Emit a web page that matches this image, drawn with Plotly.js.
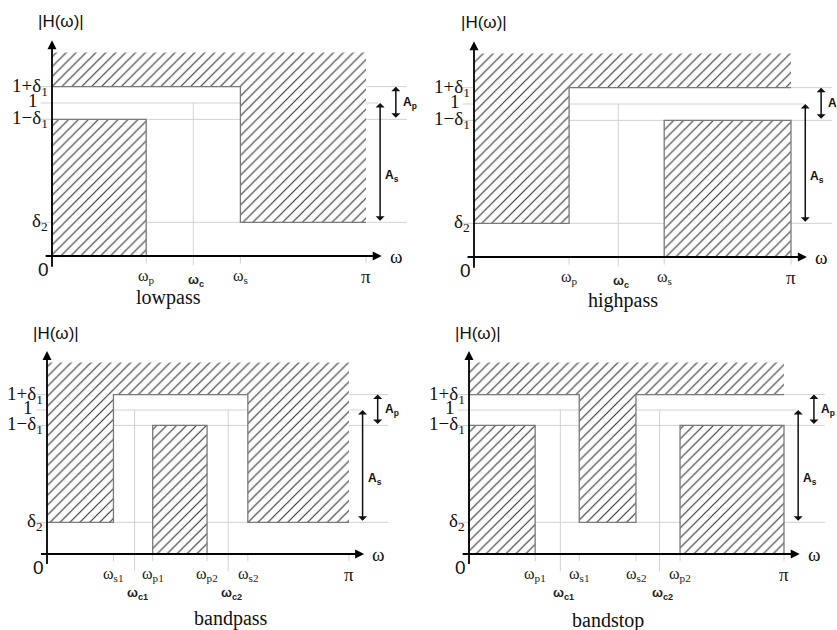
<!DOCTYPE html>
<html><head><meta charset="utf-8">
<script src="https://cdn.plot.ly/plotly-3.0.1.min.js"></script>
<style>html,body{margin:0;padding:0;background:#fff}#chart{width:837px;height:630px}</style>
</head><body><div id="chart"></div>
<script>
// ---------------- data (frequencies as fractions of π, magnitudes) ----------------
const delta1 = 0.107;
const delta2 = 0.22;
const topLevel = 1.33;
const levelValues = [1 + delta1, 1, 1 - delta1, delta2];
const levelLabels = ['1+δ<sub>1</sub>', '1', '1−δ<sub>1</sub>', 'δ<sub>2</sub>'];
const panelNames = ['lowpass', 'highpass', 'bandpass', 'bandstop'];

// lowpass
const lpEdges = [0.30, 0.60, 1.0];
const lpEdgeLabels = ['ω<sub>p</sub>', 'ω<sub>s</sub>', 'π'];
const lpCutoffs = [0.45];
const lpCutoffLabels = ['ω<sub>c</sub>'];
const lpUpperBreaks = [0, 0.60, 1.0];
const lpUpperLevels = [1 + delta1, delta2];
const lpLowerBands = [[0, 0.30]];

// highpass
const hpEdges = [0.30, 0.60, 1.0];
const hpEdgeLabels = ['ω<sub>p</sub>', 'ω<sub>s</sub>', 'π'];
const hpCutoffs = [0.455];
const hpCutoffLabels = ['ω<sub>c</sub>'];
const hpUpperBreaks = [0, 0.30, 1.0];
const hpUpperLevels = [delta2, 1 + delta1];
const hpLowerBands = [[0.60, 1.0]];

// bandpass
const bpEdges = [0.22, 0.35, 0.53, 0.665, 1.0];
const bpEdgeLabels = ['ω<sub>s1</sub>', 'ω<sub>p1</sub>', 'ω<sub>p2</sub>', 'ω<sub>s2</sub>', 'π'];
const bpCutoffs = [0.29, 0.60];
const bpCutoffLabels = ['ω<sub>c1</sub>', 'ω<sub>c2</sub>'];
const bpUpperBreaks = [0, 0.22, 0.665, 1.0];
const bpUpperLevels = [delta2, 1 + delta1, delta2];
const bpLowerBands = [[0.35, 0.53]];

// bandstop
const bsEdges = [0.21, 0.35, 0.53, 0.67, 1.0];
const bsEdgeLabels = ['ω<sub>p1</sub>', 'ω<sub>s1</sub>', 'ω<sub>s2</sub>', 'ω<sub>p2</sub>', 'π'];
const bsCutoffs = [0.29, 0.605];
const bsCutoffLabels = ['ω<sub>c1</sub>', 'ω<sub>c2</sub>'];
const bsUpperBreaks = [0, 0.35, 0.53, 1.0];
const bsUpperLevels = [1 + delta1, delta2, 1 + delta1];
const bsLowerBands = [[0, 0.21], [0.67, 1.0]];

// ---------------- layout geometry (pixels) ----------------
const W = 837, H = 630;
const geom = [
  {ox: 52,  oy: 256, pi: 366, one: 103, box: [0, 0, 418, 315],   titleX: 0.37, titleShift: -41, cShift: -24},
  {ox: 474, oy: 257, pi: 791, one: 104, box: [418, 0, 837, 315], titleX: 0.47, titleShift: -43, cShift: -24},
  {ox: 47,  oy: 554, pi: 349, one: 410, box: [0, 315, 418, 630], titleX: 0.61, titleShift: -64, cShift: -39},
  {ox: 469, oy: 554, pi: 784, one: 410, box: [418, 315, 837, 630], titleX: 0.44, titleShift: -66, cShift: -39}
];

const panels = [
  {edges: lpEdges, edgeLabels: lpEdgeLabels, cut: lpCutoffs, cutLabels: lpCutoffLabels, ub: lpUpperBreaks, ul: lpUpperLevels, lb: lpLowerBands},
  {edges: hpEdges, edgeLabels: hpEdgeLabels, cut: hpCutoffs, cutLabels: hpCutoffLabels, ub: hpUpperBreaks, ul: hpUpperLevels, lb: hpLowerBands},
  {edges: bpEdges, edgeLabels: bpEdgeLabels, cut: bpCutoffs, cutLabels: bpCutoffLabels, ub: bpUpperBreaks, ul: bpUpperLevels, lb: bpLowerBands},
  {edges: bsEdges, edgeLabels: bsEdgeLabels, cut: bsCutoffs, cutLabels: bsCutoffLabels, ub: bsUpperBreaks, ul: bsUpperLevels, lb: bsLowerBands}
];

const SERIF = 'Liberation Serif, Times New Roman, serif';
const SANS = 'Liberation Sans, Arial, sans-serif';
const lightGray = '#d2d2d2';
const edgeGray = '#7a7a7a';

const traces = [];
const annotations = [];
const layout = {
  width: W, height: H, margin: {l: 0, r: 0, t: 0, b: 0},
  paper_bgcolor: '#fff', plot_bgcolor: 'rgba(0,0,0,0)', showlegend: false,
  annotations: annotations
};

function stepLine(breaks, levels) {
  const xs = [], ys = [];
  for (let i = 0; i < levels.length; i++) {
    xs.push(breaks[i], breaks[i + 1]);
    ys.push(levels[i], levels[i]);
  }
  return {xs, ys};
}

panels.forEach((p, i) => {
  const g = geom[i];
  const sx = g.pi - g.ox, sy = g.oy - g.one;
  const xn = i === 0 ? 'xaxis' : 'xaxis' + (i + 1);
  const yn = i === 0 ? 'yaxis' : 'yaxis' + (i + 1);
  const xa = i === 0 ? 'x' : 'x' + (i + 1);
  const ya = i === 0 ? 'y' : 'y' + (i + 1);
  layout[xn] = {domain: [g.box[0] / W, g.box[2] / W], range: [(g.box[0] - g.ox) / sx, (g.box[2] - g.ox) / sx],
    visible: false, anchor: ya, fixedrange: true};
  layout[yn] = {domain: [1 - g.box[3] / H, 1 - g.box[1] / H], range: [(g.oy - g.box[3]) / sy, (g.oy - g.box[1]) / sy],
    visible: false, anchor: xa, fixedrange: true};

  // light reference lines
  const rx = [], ry = [];
  levelValues.forEach((L, k) => {
    rx.push(-0.035, k === 1 ? 1.04 : 1.13, null);
    ry.push(L, L, null);
  });
  p.cut.forEach(c => { rx.push(c, c, null); ry.push(i < 2 ? -0.06 : -0.12, 1, null); });
  p.edges.forEach(e => { rx.push(e, e, null); ry.push(-0.05, 0, null); });
  traces.push({type: 'scatter', mode: 'lines', x: rx, y: ry, xaxis: xa, yaxis: ya,
    line: {color: lightGray, width: 1}, hoverinfo: 'skip'});

  // upper forbidden region
  const up = stepLine(p.ub, p.ul);
  const fp = {shape: '/', size: 7, solidity: 0.17, fgcolor: '#3a3a3a', bgcolor: '#ffffff', fillmode: 'replace'};
  traces.push({type: 'scatter', mode: 'none', x: up.xs.concat([1, 0]), y: up.ys.concat([topLevel, topLevel]),
    xaxis: xa, yaxis: ya, fill: 'toself', fillcolor: '#ffffff', fillpattern: fp, hoverinfo: 'skip'});
  // lower forbidden region(s)
  const lx = [], ly = [];
  p.lb.forEach(b => {
    lx.push(b[0], b[0], b[1], b[1], null);
    ly.push(0, 1 - delta1, 1 - delta1, 0, null);
  });
  traces.push({type: 'scatter', mode: 'none', x: lx, y: ly, xaxis: xa, yaxis: ya,
    fill: 'toself', fillcolor: '#ffffff', fillpattern: fp, hoverinfo: 'skip'});
  // mask boundaries
  traces.push({type: 'scatter', mode: 'lines', x: up.xs.concat([null], lx), y: up.ys.concat([null], ly),
    xaxis: xa, yaxis: ya, line: {color: edgeGray, width: 1.3}, hoverinfo: 'skip'});

  // axes with arrows
  annotations.push({xref: xa, yref: ya, axref: xa, ayref: ya, x: 0, y: 1.41, ax: 0, ay: -0.08,
    text: '', showarrow: true, arrowhead: 2, arrowsize: 1, arrowwidth: 1.8, arrowcolor: '#000'});
  annotations.push({xref: xa, yref: ya, axref: xa, ayref: ya, x: 1.05, y: 0, ax: -0.025, ay: 0,
    text: '', showarrow: true, arrowhead: 2, arrowsize: 1, arrowwidth: 1.8, arrowcolor: '#000'});
  // Ap and As
  annotations.push({xref: xa, yref: ya, axref: xa, ayref: ya, x: 1.095, y: 1 + delta1, ax: 1.095, ay: 1 - delta1,
    text: '', showarrow: true, arrowhead: 1, arrowside: 'end+start', arrowsize: 1, arrowwidth: 1.5, arrowcolor: '#111'});
  annotations.push({xref: xa, yref: ya, axref: xa, ayref: ya, x: 1.045, y: 1, ax: 1.045, ay: delta2,
    text: '', showarrow: true, arrowhead: 1, arrowside: 'end+start', arrowsize: 1, arrowwidth: 1.5, arrowcolor: '#111'});
  annotations.push({xref: xa, yref: ya, x: 1.095, y: 1, xshift: 5, xanchor: 'left', yanchor: 'middle', showarrow: false,
    text: '<b>A<sub>p</sub></b>', font: {family: SANS, size: 12, color: '#111'}});
  annotations.push({xref: xa, yref: ya, x: 1.045, y: 0.52, xshift: 3, xanchor: 'left', yanchor: 'middle', showarrow: false,
    text: '<b>A<sub>s</sub></b>', font: {family: SANS, size: 12, color: '#111'}});

  // level labels
  levelValues.forEach((L, k) => {
    annotations.push({xref: xa, yref: ya, x: 0, y: L, xshift: k === 1 ? -12 : -2, yshift: k === 1 ? 3 : 0,
      xanchor: 'right', yanchor: 'middle', showarrow: false, text: levelLabels[k],
      font: {family: SERIF, size: 19, color: '#111'}});
  });
  annotations.push({xref: xa, yref: ya, x: 0, y: 0, xshift: -9, yshift: -13, xanchor: 'center', yanchor: 'middle',
    showarrow: false, text: '0', font: {family: SANS, size: 19, color: '#111'}});
  annotations.push({xref: xa, yref: ya, x: 0.03, y: 1.53, xanchor: 'center', yanchor: 'middle',
    showarrow: false, text: '|H(ω)|', font: {family: SANS, size: 17, color: '#111'}});
  annotations.push({xref: xa, yref: ya, x: 1.05, y: 0, xshift: 6, xanchor: 'left', yanchor: 'middle',
    showarrow: false, text: 'ω', font: {family: SERIF, size: 19, color: '#111'}});

  // frequency labels
  p.edges.forEach((e, k) => {
    annotations.push({xref: xa, yref: ya, x: e, y: 0, yshift: -20, xanchor: 'center', yanchor: 'middle',
      showarrow: false, text: p.edgeLabels[k], font: {family: SERIF, size: e === 1 ? 19 : 16, color: '#222'}});
  });
  p.cut.forEach((c, k) => {
    annotations.push({xref: xa, yref: ya, x: c, y: 0, xshift: 3, yshift: g.cShift, xanchor: 'center', yanchor: 'middle',
      showarrow: false, text: '<b>' + p.cutLabels[k] + '</b>', font: {family: SANS, size: 13, color: '#222'}});
  });
  annotations.push({xref: xa, yref: ya, x: g.titleX, y: 0, yshift: g.titleShift, xanchor: 'center', yanchor: 'middle',
    showarrow: false, text: panelNames[i], font: {family: SERIF, size: 20, color: '#111'}});
});

Plotly.newPlot('chart', traces, layout, {staticPlot: true, displayModeBar: false});
</script></body></html>
